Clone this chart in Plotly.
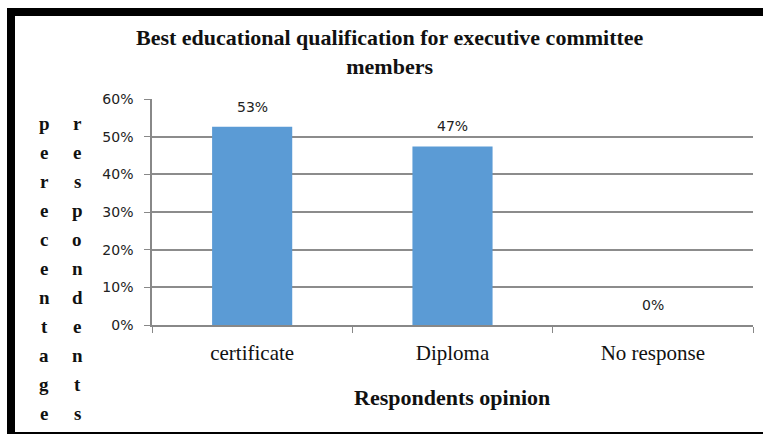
import plotly.graph_objects as go

categories = ["certificate", "Diploma", "No response"]
values = [52.6, 47.4, 0]
y_ticks = [0, 10, 20, 30, 40, 50, 60]
title_text = "<b>Best educational qualification for executive committee<br>members</b>"
x_title = "<b>Respondents opinion</b>"
y_title_col1 = "perecentage"
y_title_col2 = "respondents"

W, H = 763, 436
L, R, T, B = 152, 10, 99, 111
PW = W - L - R
PH = H - T - B

def px(x):
    return (x - L) / PW

def py(y):
    return (H - B - y) / PH

fig = go.Figure()
fig.add_trace(go.Bar(
    x=categories, y=values,
    marker=dict(color="#5B9BD5", line=dict(width=0)),
))

annotations = [
    dict(text=title_text, x=px(390), y=py(52), xref="paper", yref="paper",
         showarrow=False, xanchor="center", yanchor="middle",
         font=dict(family="Liberation Serif", size=22, color="#111")),
    dict(text=x_title, x=px(452), y=py(397), xref="paper", yref="paper",
         showarrow=False, xanchor="center", yanchor="middle",
         font=dict(family="Liberation Serif", size=22, color="#111")),
]
# data labels
for c, v in zip(categories, values):
    annotations.append(dict(
        text="%.0f%%" % v, x=c, y=v, xref="x", yref="y",
        showarrow=False, xanchor="center", yanchor="middle", yshift=20,
        font=dict(family="DejaVu Sans", size=14, color="#222")))
for col_x, word in [(44, y_title_col1), (77, y_title_col2)]:
    for i, ch in enumerate(word):
        annotations.append(dict(
            text="<b>%s</b>" % ch, x=px(col_x), y=py(123 + 29 * i),
            xref="paper", yref="paper", showarrow=False,
            xanchor="center", yanchor="middle",
            font=dict(family="Liberation Serif", size=19, color="#111")))

shapes = [
    dict(type="rect", xref="paper", yref="paper", x0=px(7), x1=px(15), y0=py(8), y1=py(433),
         fillcolor="black", line=dict(width=0), layer="above"),
    dict(type="rect", xref="paper", yref="paper", x0=px(7), x1=px(763), y0=py(8), y1=py(16),
         fillcolor="black", line=dict(width=0), layer="above"),
    dict(type="rect", xref="paper", yref="paper", x0=px(7), x1=px(763), y0=py(432), y1=py(434),
         fillcolor="black", line=dict(width=0), layer="above"),
]

fig.update_layout(
    width=W, height=H,
    margin=dict(l=L, r=R, t=T, b=B),
    paper_bgcolor="white", plot_bgcolor="white",
    showlegend=False,
    bargap=0.6,
    annotations=annotations,
    shapes=shapes,
    xaxis=dict(
        showline=True, linecolor="#888", linewidth=1.5,
        ticks="outside", tickson="boundaries", ticklen=6, tickcolor="#888",
        tickfont=dict(family="Liberation Serif", size=21, color="#111"),
        ticklabelstandoff=8,
        showgrid=False,
    ),
    yaxis=dict(
        range=[0, 60], tickvals=y_ticks, ticktext=["%d%%" % v for v in y_ticks],
        showline=True, linecolor="#888", linewidth=1.5,
        ticks="outside", ticklen=6, tickcolor="#888",
        showgrid=True, gridcolor="#8c8c8c", gridwidth=1.5,
        zeroline=False,
        ticklabelstandoff=8,
        tickfont=dict(family="DejaVu Sans", size=14, color="#222"),
    ),
)

fig.write_html("out.html")
